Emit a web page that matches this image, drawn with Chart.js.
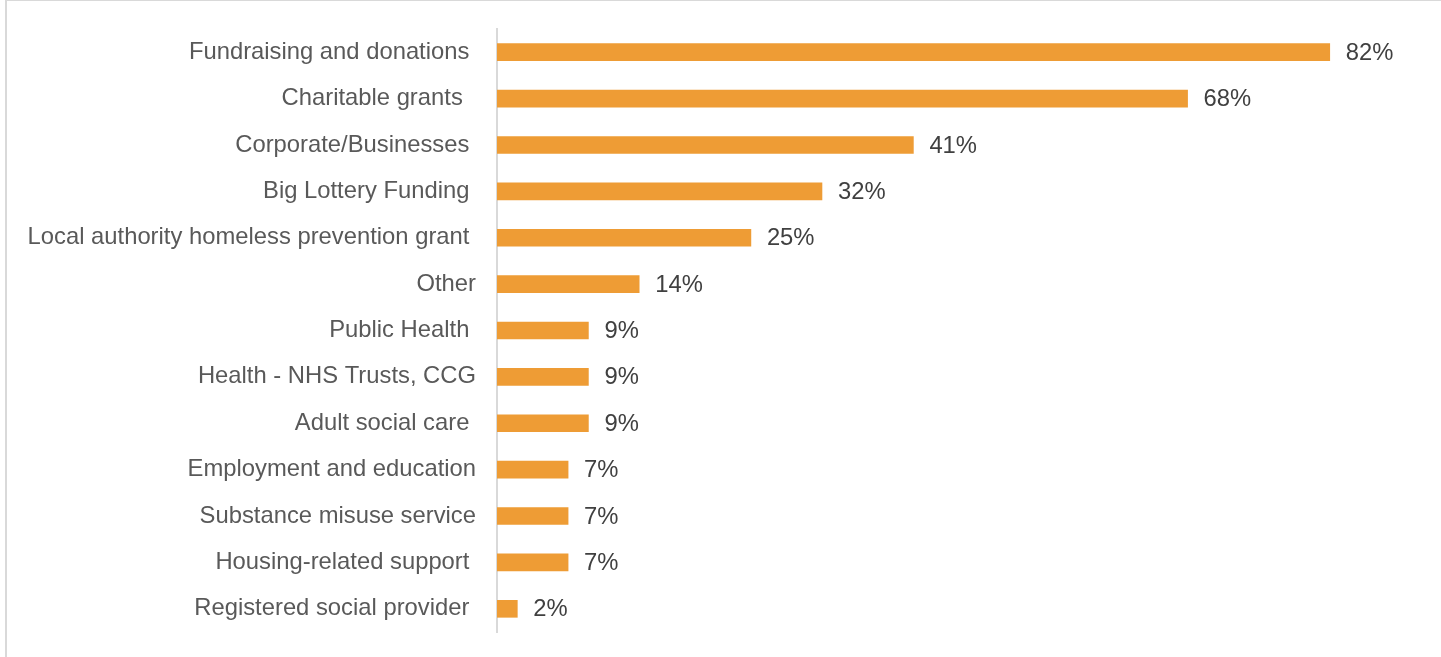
<!DOCTYPE html>
<html>
<head>
<meta charset="utf-8">
<script src="https://cdn.jsdelivr.net/npm/chart.js@4"></script>
<style>
  html, body { margin: 0; padding: 0; background: #fff; overflow: hidden; }
  #wrap { position: relative; width: 1441px; height: 657px; }
  #frame {
    position: absolute; left: 5px; top: 0; width: 1460px; height: 680px;
    border-top: 1px solid #d9d9d9; border-left: 2px solid #d9d9d9;
  }
  canvas { position: absolute; left: 0; top: 0; }
</style>
</head>
<body>
<div id="wrap">
  <div id="frame"></div>
  <canvas id="fundingChart" width="1441" height="657"></canvas>
</div>
<script>
// Funding sources (share of respondents, %)
const categories = [
  'Fundraising and donations ',
  'Charitable grants  ',
  'Corporate/Businesses ',
  'Big Lottery Funding ',
  'Local authority homeless prevention grant ',
  'Other',
  'Public Health ',
  'Health - NHS Trusts, CCG',
  'Adult social care ',
  'Employment and education',
  'Substance misuse service',
  'Housing-related support ',
  'Registered social provider '
];
const values = [82, 68, 41, 32, 25, 14, 9, 9, 9, 7, 7, 7, 2];

const FONT = '"Liberation Sans", Arial, sans-serif';
const FONT_SIZE = 23.8;
const AXIS_X = 497;

// Writes the percentage just past the end of each bar
const valueLabels = {
  id: 'valueLabels',
  afterDatasetsDraw(chart) {
    const ctx = chart.ctx;
    const meta = chart.getDatasetMeta(0);
    ctx.save();
    ctx.font = FONT_SIZE + 'px ' + FONT;
    ctx.fillStyle = '#404040';
    ctx.textAlign = 'left';
    ctx.textBaseline = 'middle';
    meta.data.forEach((bar, i) => {
      ctx.fillText(values[i] + '%', bar.x + 16, bar.y + 1);
    });
    ctx.restore();
  }
};

const ctx = document.getElementById('fundingChart').getContext('2d');
new Chart(ctx, {
  type: 'bar',
  data: {
    labels: categories,
    datasets: [{
      data: values,
      backgroundColor: '#ee9c35',
      barThickness: 17
    }]
  },
  options: {
    indexAxis: 'y',
    responsive: false,
    animation: false,
    layout: { padding: { top: 29, bottom: 25, left: 0, right: 30 } },
    plugins: { legend: { display: false }, tooltip: { enabled: false } },
    scales: {
      x: { display: false, min: 0, max: 90 },
      y: {
        afterFit(scale) {
          scale.width = AXIS_X;
          scale.paddingTop = 0;
          scale.paddingBottom = 0;
        },
        grid: { drawOnChartArea: false, drawTicks: false },
        border: { color: '#d9d9d9', width: 2 },
        ticks: {
          padding: 21,
          color: '#595959',
          font: { family: FONT, size: FONT_SIZE }
        }
      }
    }
  },
  plugins: [valueLabels]
});
</script>
</body>
</html>
